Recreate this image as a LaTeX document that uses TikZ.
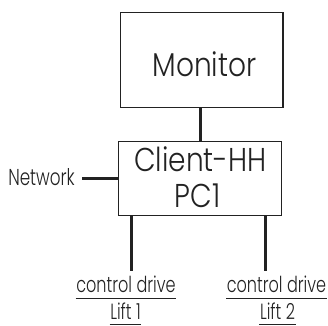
\documentclass[tikz,border=0pt]{standalone}
\usepackage{fontspec}
\setmainfont{Poppins}
\newfontfamily\bigf{Poppins Light}[FakeStretch=0.85]
\newfontfamily\smallf{Poppins Light}[FakeStretch=0.73]
\definecolor{ink}{HTML}{222222}
\begin{document}
\begin{tikzpicture}[x=1bp,y=-1bp,
  box/.style={draw=ink, line width=1.2bp, inner sep=0pt, text=ink},
  wire/.style={draw=ink, line width=3bp},
  lbl/.style={text=ink, inner xsep=0.5bp, anchor=base},
  uline/.style={draw=ink, line width=1bp}]
\useasboundingbox (0,0) rectangle (328,326);
\node[box, minimum width=162.5bp, minimum height=94.8bp] (monitor) at (201.8,60.1) {};
\node[text=ink, anchor=base, inner sep=0pt] (montxt) at (204.5,76.7) {\bigf\fontsize{33bp}{36bp}\selectfont Monitor};
\node[box, minimum width=163.3bp, minimum height=74.3bp] (client) at (200.1,178.3) {};
\node[text=ink, anchor=base, inner sep=0pt] (cltxt) at (200.3,171) {\bigf\fontsize{33bp}{36bp}\selectfont Client-HH};
\node[text=ink, anchor=base, inner sep=0pt] (pctxt) at (197.5,207.7) {\bigf\fontsize{33bp}{36bp}\selectfont PC1};
\node[text=ink, anchor=base east, inner sep=0pt] (net) at (75,185) {\smallf\fontsize{23bp}{26bp}\selectfont Network};
\coordinate (netend) at (82,178);
\draw[wire] (netend) -- (netend -| client.west);
\draw[wire] (monitor.south -| 200,0) -- (client.north -| 200,0);
\coordinate (d1) at (131.7,271);
\coordinate (d2) at (265.7,271);
\draw[wire] (client.south -| d1) -- (d1);
\draw[wire] (client.south -| d2) -- (d2);
\node[lbl, inner ysep=6bp] (cd1) at (126,292) {\smallf\fontsize{22bp}{26bp}\selectfont control drive};
\node[lbl, inner ysep=5bp] (lift1) at (125.5,319) {\smallf\fontsize{22bp}{26bp}\selectfont Lift 1};
\node[lbl, inner ysep=6bp] (cd2) at (276.5,292) {\smallf\fontsize{22bp}{26bp}\selectfont control drive};
\node[lbl, inner ysep=5bp] (lift2) at (277.5,319) {\smallf\fontsize{22bp}{26bp}\selectfont Lift 2};
\foreach \n in {cd1,lift1,cd2,lift2} \draw[uline] (\n.south west) -- (\n.south east);
\end{tikzpicture}
\end{document}
